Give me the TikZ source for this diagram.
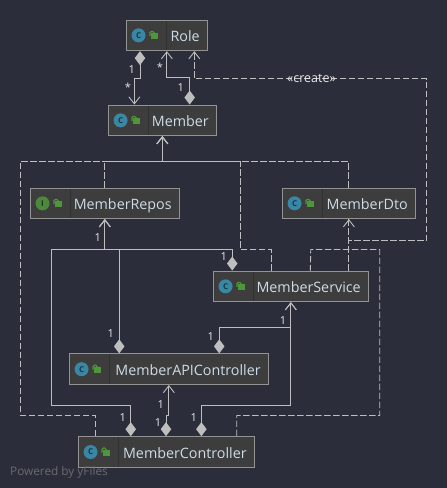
\documentclass[tikz,border=0pt]{standalone}
\usepackage{fontspec}
\setmainfont{Open Sans}
\usetikzlibrary{arrows.meta}
\definecolor{bgcolor}{RGB}{43,45,58}
\definecolor{boxcolor}{RGB}{61,61,61}
\definecolor{edgecolor}{RGB}{190,190,190}
\definecolor{classcolor}{RGB}{58,135,165}
\definecolor{ifacecolor}{RGB}{78,135,62}
\definecolor{lockcolor}{RGB}{78,150,58}
\definecolor{namecolor}{RGB}{205,220,232}

\begin{document}
\begin{tikzpicture}[
    x=1pt, y=-1pt,
    classbox/.style={rectangle, draw=gray!85, fill=boxcolor, line width=0.9pt, minimum height=30.7pt, inner xsep=8pt, inner ysep=0pt, text width={#1-16pt}, text height=14pt, text depth=1.4pt, align=right, text=namecolor, font=\fontsize{14.3}{16}\selectfont,
        path picture={\draw[black!20!boxcolor] ([xshift=40pt]path picture bounding box.north west) -- ([xshift=40pt]path picture bounding box.south west);}},
    icon/.style={circle, fill=#1, minimum size=14pt, inner sep=0pt, font=\fontsize{8}{8}\selectfont\bfseries, text=black!60!#1},
    lock/.pic={
        \fill[lockcolor] (0,-2) rectangle (7,4);
        \draw[lockcolor, line width=1.2pt, rounded corners=1.5pt] (-0.6,0.5) -- (-0.6,-4) -- (3.6,-4) -- (3.6,-2);
    },
    comp/.style={edgecolor, line width=0.9pt, {Diamond[length=14pt,width=10.5pt]}-{Straight Barb[length=7pt,width=11pt]}},
    dep/.style={edgecolor, line width=0.9pt, dash pattern=on 6.5pt off 2.5pt, -{Straight Barb[length=7pt,width=11pt]}},
    depline/.style={edgecolor, line width=0.9pt, dash pattern=on 6.5pt off 2.5pt},
    mult/.style={text=white!92!black, inner sep=0pt, font=\fontsize{11}{11}\selectfont}
]
\fill[bgcolor] (0,0) rectangle (447,488);

\node[classbox=81.7pt] (role) at (166.85,35.35) {Role};
\node[classbox=108.7pt] (member) at (162.35,120.35) {Member};
\node[classbox=149.7pt] (memberRepos) at (104.85,203.35) {MemberRepos};
\node[classbox=133.7pt] (memberDto) at (348.85,203.35) {MemberDto};
\node[classbox=155.7pt] (memberService) at (290.85,286.35) {MemberService};
\node[classbox=199.7pt] (memberApi) at (168.85,369.2) {MemberAPIController};
\node[classbox=176.7pt] (memberCtrl) at (166.35,452) {MemberController};

\node[icon=classcolor] (roleIcon) at ([xshift=13pt]role.west) {C};
\node[icon=classcolor] (memberIcon) at ([xshift=13pt]member.west) {C};
\node[icon=ifacecolor] (reposIcon) at ([xshift=13pt]memberRepos.west) {I};
\node[icon=classcolor] (dtoIcon) at ([xshift=13pt]memberDto.west) {C};
\node[icon=classcolor] (serviceIcon) at ([xshift=13pt]memberService.west) {C};
\node[icon=classcolor] (apiIcon) at ([xshift=13pt]memberApi.west) {C};
\node[icon=classcolor] (ctrlIcon) at ([xshift=13pt]memberCtrl.west) {C};
\pic at ([xshift=25pt]role.west) {lock};
\pic at ([xshift=25pt]member.west) {lock};
\pic at ([xshift=25pt]memberRepos.west) {lock};
\pic at ([xshift=25pt]memberDto.west) {lock};
\pic at ([xshift=25pt]memberService.west) {lock};
\pic at ([xshift=25pt]memberApi.west) {lock};
\pic at ([xshift=25pt]memberCtrl.west) {lock};

% role and member
\draw[comp] ([xshift=-26.85pt]role.south) -- ++(0,27.6) -| ([xshift=-28pt]member.north);
\draw[comp] ([xshift=27.35pt]member.north) -- ++(0,-26.7) -| (role.south);
\draw[dep] (memberDto.south) -- ++(0,21.6) -- ++(77.85,0) -- ++(0,-162) -| ([xshift=27.5pt]role.south);
\node[mult, font=\fontsize{12.5}{12}\selectfont] (createLabel) at (311.5,78.5) {«create»};

% dependencies on member
\draw[dep] (memberDto.north) -- ++(0,-25.7) -| (member.south);
\draw[dep] (memberRepos.north) -- ++(0,-25.7) -| (member.south);
\draw[dep] ([xshift=-19.2pt]memberService.north) -- ++(0,-20.7) -- ++(-31.4,0) -- ++(0,-88) -| (member.south);
\draw[dep] ([xshift=-70.85pt]memberCtrl.north) -- ++(0,-20.7) -- ++(-75.2,0) -- ++(0,-254) -| (member.south);

% dependencies on dto and service
\draw[dep] (memberService.north -| memberDto.south) -- (memberDto.south);
\draw[depline] ([xshift=70.4pt]memberCtrl.north) -- ++(0,-20.7) -- ++(143,0) -- ++(0,-166) -- ++(-69,0) -- ([xshift=19.5pt]memberService.north);

% repository
\draw[comp] ([xshift=-58.6pt]memberService.north) -- ++(0,-20.7) -| (memberRepos.south);
\draw[comp] ([xshift=-49.6pt]memberApi.north) -- ++(0,-103.7) -| (memberRepos.south);
\draw[comp] ([xshift=-35.6pt]memberCtrl.north) -- ++(0,-30.3) -- ++(-79.4,0) -- ++(0,-156.4) -| (memberRepos.south);

% service and controllers
\draw[comp] ([xshift=50.4pt]memberApi.north) -- ++(0,-25.8) -| (memberService.south);
\draw[comp] ([xshift=35pt]memberCtrl.north) -- ++(0,-30.7) -| (memberService.south);
\draw[comp] ([xshift=-0.35pt]memberCtrl.north) -- ++(0,-20.3) -| (memberApi.south);

\node[mult] (m1) at (131.7,70) {1};
\node[mult] (m2) at (128,87) {*};
\node[mult] (m3) at (160,67) {*};
\node[mult] (m4) at (180.7,88) {1};
\node[mult] (m5) at (97.7,238) {1};
\node[mult] (m6) at (223.7,256.7) {1};
\node[mult] (m7) at (110.7,334) {1};
\node[mult] (m8) at (210.7,336.7) {1};
\node[mult] (m9) at (283,320.7) {1};
\node[mult] (m10) at (160.7,405) {1};
\node[mult] (m11) at (122.7,417.7) {1};
\node[mult] (m12) at (158,422.7) {1};
\node[mult] (m13) at (193.7,417.7) {1};

\node[anchor=west, inner sep=0pt, text=gray!75!bgcolor, font=\fontsize{11.8}{12}\selectfont] (powered) at (10,472.2) {Powered by yFiles};
\end{tikzpicture}
\end{document}
